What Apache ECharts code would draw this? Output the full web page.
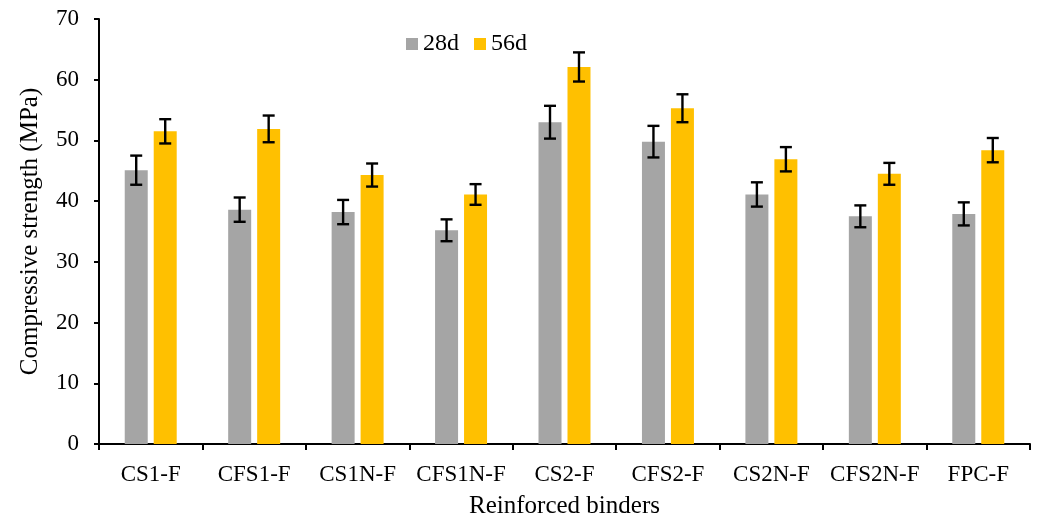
<!DOCTYPE html>
<html>
<head>
<meta charset="utf-8">
<script src="https://cdn.jsdelivr.net/npm/echarts@6/dist/echarts.min.js"></script>
<style>
html,body{margin:0;padding:0;background:#fff;}
#chart{width:1037px;height:518px;}
</style>
</head>
<body>
<div id="chart"></div>
<script>
var categories = ['CS1-F','CFS1-F','CS1N-F','CFS1N-F','CS2-F','CFS2-F','CS2N-F','CFS2N-F','FPC-F'];
var strength28 = [45.1, 38.6, 38.2, 35.2, 53.0, 49.8, 41.1, 37.5, 37.9];
var error28 = [2.4, 2.0, 2.0, 1.8, 2.7, 2.6, 2.0, 1.8, 1.9];
var strength56 = [51.5, 51.9, 44.3, 41.1, 62.1, 55.3, 46.9, 44.5, 48.4];
var error56 = [2.0, 2.2, 1.9, 1.7, 2.4, 2.3, 2.0, 1.8, 2.0];
var yTicks = [0, 10, 20, 30, 40, 50, 60, 70];

var FONT = "'Liberation Serif', 'Times New Roman', serif";
var BAR_W = 23, GAP = 6;

function errorSeries(name, values, errors, offset) {
  return {
    type: 'custom',
    name: name + ' error',
    z: 10,
    silent: true,
    data: values.map(function (v, i) { return [i, v - errors[i], v + errors[i]]; }),
    renderItem: function (params, api) {
      var lo = api.coord([api.value(0), api.value(1)]);
      var hi = api.coord([api.value(0), api.value(2)]);
      var x = lo[0] + offset;
      var cap = 6;
      var style = { stroke: '#000', lineWidth: 2.4, fill: null };
      return {
        type: 'group',
        children: [
          { type: 'line', shape: { x1: x, y1: lo[1], x2: x, y2: hi[1] }, style: style },
          { type: 'line', shape: { x1: x - cap, y1: lo[1], x2: x + cap, y2: lo[1] }, style: style },
          { type: 'line', shape: { x1: x - cap, y1: hi[1], x2: x + cap, y2: hi[1] }, style: style }
        ]
      };
    },
    encode: { x: 0, y: [1, 2] }
  };
}

var chart = echarts.init(document.getElementById('chart'));
chart.setOption({
  animation: false,
  backgroundColor: '#fff',
  textStyle: { fontFamily: FONT, color: '#000' },
  legend: {
    data: ['28d', '56d'],
    left: 401,
    top: 27,
    itemWidth: 12,
    itemHeight: 12,
    itemGap: 15,
    icon: 'rect',
    textStyle: { fontFamily: FONT, fontSize: 24, color: '#000' }
  },
  grid: { left: 99, right: 7, top: 19, bottom: 74, containLabel: false, outerBoundsMode: 'none' },
  xAxis: {
    type: 'category',
    data: categories,
    name: 'Reinforced binders',
    nameLocation: 'middle',
    nameGap: 50,
    nameTextStyle: { fontFamily: FONT, fontSize: 25, color: '#000' },
    axisLine: { lineStyle: { color: '#000', width: 2 } },
    axisTick: { show: true, length: 6, lineStyle: { color: '#000', width: 2 } },
    axisLabel: { fontFamily: FONT, fontSize: 23, color: '#000', margin: 19, interval: 0 },
    splitLine: { show: false }
  },
  yAxis: {
    type: 'value',
    min: yTicks[0],
    max: yTicks[yTicks.length - 1],
    interval: 10,
    name: 'Compressive strength (MPa)',
    nameLocation: 'middle',
    nameGap: 56,
    nameTextStyle: { fontFamily: FONT, fontSize: 25, color: '#000' },
    axisLine: { show: true, lineStyle: { color: '#000', width: 2 } },
    axisTick: { show: true, length: 5, lineStyle: { color: '#000', width: 2 } },
    axisLabel: { fontFamily: FONT, fontSize: 23, color: '#000', margin: 20 },
    splitLine: { show: false }
  },
  series: [
    {
      name: '28d', type: 'bar', data: strength28,
      barWidth: BAR_W, barGap: (GAP / BAR_W * 100).toFixed(0) + '%',
      itemStyle: { color: '#A5A5A5' }
    },
    {
      name: '56d', type: 'bar', data: strength56,
      barWidth: BAR_W,
      itemStyle: { color: '#FFC000' }
    },
    errorSeries('28d', strength28, error28, -(BAR_W + GAP) / 2),
    errorSeries('56d', strength56, error56, (BAR_W + GAP) / 2)
  ]
});
</script>
</body>
</html>
